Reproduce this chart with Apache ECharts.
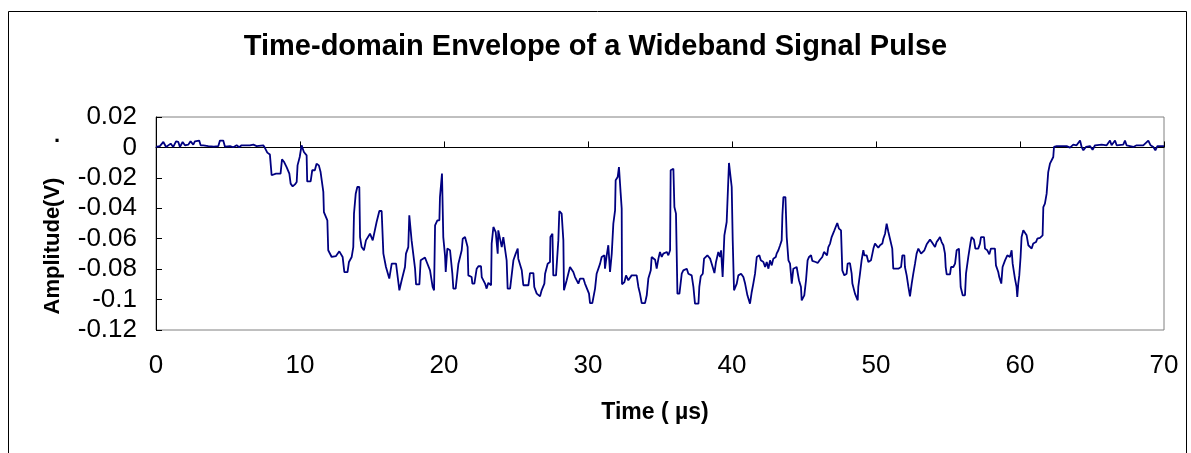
<!DOCTYPE html>
<html><head><meta charset="utf-8">
<script src="https://cdn.jsdelivr.net/npm/echarts@6/dist/echarts.min.js"></script>
<style>html,body{margin:0;padding:0;background:#fff}#c{width:1191px;height:453px}</style>
</head><body><div id="c"></div>
<script>
const titleText = 'Time-domain Envelope of a Wideband Signal Pulse';
const xAxisName = 'Time ( µs)';
const yAxisName = 'Amplitude(V)';
const xTickValues = [0, 10, 20, 30, 40, 50, 60, 70];
const yTickValues = [0.02, 0, -0.02, -0.04, -0.06, -0.08, -0.1, -0.12];

const timeUs = [
0,0.27,0.51,0.7,1.02,1.2,1.39,1.55,1.66,1.85,2.01,2.24,2.4,2.59,2.7,3.0,3.1,3.28,3.4,3.63,3.75,4.02,4.33,4.44,4.67,4.79,5.14,5.37,5.6,5.78,5.94,6.52,6.76,6.99,7.45,7.57,7.73,7.91,
8.03,8.33,8.65,8.75,8.9,9.07,9.26,9.35,9.49,9.65,9.77,9.83,9.98,10.11,10.27,10.46,10.5,10.74,10.85,11.03,11.15,11.31,11.43,11.62,11.66,11.9,11.96,12.2,12.5,12.73,12.96,13.08,13.3,13.4,
13.59,13.7,13.75,13.87,13.98,14.12,14.17,14.28,14.44,14.58,14.86,15.05,15.32,15.51,15.67,15.79,15.97,16.2,16.37,16.67,16.9,17.06,17.29,17.36,17.52,17.59,17.75,17.99,18.06,18.29,18.38,18.68,18.8,19.03,19.21,19.31,19.38,19.54,19.68,19.72,19.86,19.95,20.07,20.12,20.23,20.42,20.58,20.65,20.81,21.0,21.23,21.3,21.46,21.64,21.69,
21.92,21.97,22.11,22.27,22.39,22.57,22.62,22.73,22.85,22.96,23.08,23.27,23.31,23.43,23.59,23.73,23.77,23.89,24.01,24.12,24.24,24.35,24.42,24.59,24.82,24.98,25.12,25.16,25.4,25.51,25.86,25.97,26.21,26.27,26.44,26.67,26.78,26.97,27.02,27.2,27.36,27.39,27.53,27.59,27.78,27.94,28.01,28.17,28.29,28.33,28.52,28.75,28.98,29.1,29.33,29.45,29.68,29.79,30.07,30.14,30.3,30.49,30.6,30.84,30.95,31.14,31.18,31.3,31.41,31.53,31.65,31.76,31.88,31.92,32.06,32.15,32.22,32.27,32.34,32.36,32.53,32.64,32.8,33.03,
33.38,33.5,33.61,33.73,33.96,34.08,34.19,34.36,34.42,34.66,34.77,34.89,35.0,35.12,35.23,35.35,35.47,35.58,35.7,35.74,35.93,36.0,36.11,36.21,36.35,36.51,36.62,36.86,36.97,37.2,37.32,37.43,37.67,37.73,37.83,37.97,38.06,38.29,38.48,38.59,38.71,38.78,38.89,39.05,39.17,39.24,39.35,39.47,39.63,39.68,39.79,39.86,39.98,40.05,40.14,40.33,40.44,40.63,40.79,40.91,41.07,41.25,41.37,41.48,41.6,41.72,41.9,42.0,42.18,42.3,42.41,42.53,42.64,42.76,42.87,43.04,43.1,43.22,43.34,43.45,43.5,43.57,43.71,43.8,43.92,44.03,44.15,44.26,44.49,
44.56,44.65,44.79,44.84,45.02,45.14,45.25,45.35,45.49,45.58,45.81,45.95,46.11,46.27,46.39,46.5,46.6,46.69,46.81,46.92,47.04,47.11,47.2,47.31,47.43,47.57,47.66,47.8,47.96,48.03,48.19,48.31,48.36,48.54,48.73,48.77,48.89,49.0,49.12,49.19,49.35,49.47,49.65,49.75,49.82,49.93,50.05,50.16,50.28,50.44,50.51,50.63,50.74,50.81,50.86,50.97,51.13,51.2,51.55,51.74,51.83,51.97,52.01,52.13,52.25,52.36,52.48,52.59,52.71,52.82,52.94,53.13,53.24,53.36,53.52,53.63,53.75,53.87,53.98,54.1,54.21,54.33,54.44,54.56,54.68,54.79,54.84,54.91,55.14,55.21,55.37,55.49,55.6,55.76,
55.88,56.02,56.18,56.25,56.41,56.57,56.64,56.8,56.9,57.1,57.22,57.29,57.5,57.57,57.73,57.87,57.98,58.26,58.33,58.49,58.56,58.65,58.7,58.79,58.96,59.12,59.3,59.42,59.49,59.58,59.65,59.76,59.81,59.88,59.95,60.04,60.11,60.23,60.34,60.46,60.58,60.69,60.81,60.92,61.11,61.2,61.39,61.57,61.62,61.73,61.85,61.96,62.08,62.2,62.31,62.36,
62.55,63.24,63.47,63.7,63.93,64.17,64.28,64.4,64.58,64.86,65.04,65.21,65.67,66.02,66.25,66.36,66.6,66.71,67.17,67.29,67.4,67.64,67.87,68.1,68.56,68.91,69.07,69.26,69.4,69.54,70
];

const amplitudeV = [
0.0003,0.0009,0.0036,0.0003,0.0025,0.0003,0.004,0.0036,0.0003,0.0036,0.0014,0.0018,0.004,0.0018,0.004,0.0045,0.0014,0.0014,0.0018,0.0009,0.0001,0.0005,0.0009,0.0045,0.0045,0.0005,0.0009,0.0001,0.0014,0.0001,0.0014,0.0014,0.0018,0.0009,0.0014,-0.0004,-0.0034,-0.0047,
-0.0183,-0.0172,-0.0172,-0.0078,-0.0096,-0.0129,-0.0172,-0.0238,-0.0256,-0.0243,-0.0227,-0.0118,-0.0063,0.0014,-0.003,-0.0052,-0.0223,-0.0223,-0.015,-0.015,-0.0107,-0.0118,-0.0162,-0.0292,-0.0425,-0.048,-0.0676,-0.072,-0.0714,-0.0683,-0.072,-0.082,-0.082,-0.0753,
-0.072,-0.0655,-0.0435,-0.0304,-0.026,-0.026,-0.0589,-0.0655,-0.0676,-0.0611,-0.0567,-0.0611,-0.049,-0.0418,-0.0418,-0.0698,-0.0786,-0.0862,-0.0764,-0.0764,-0.0939,-0.0873,-0.0786,-0.0698,-0.0655,-0.0446,-0.0611,-0.0797,-0.09,-0.09,-0.0742,-0.0724,-0.0753,-0.0808,-0.0917,-0.0939,-0.0512,-0.0479,-0.0479,-0.0326,-0.0172,-0.0589,-0.0709,-0.0819,-0.0665,-0.0676,-0.083,-0.0928,-0.0928,-0.0764,-0.0676,-0.06,-0.0589,-0.0655,-0.0841,
-0.0852,-0.0895,-0.0895,-0.0797,-0.0781,-0.0781,-0.0852,-0.0841,-0.0895,-0.0928,-0.089,-0.0906,-0.0632,-0.0523,-0.0556,-0.0698,-0.0545,-0.0545,-0.0655,-0.0589,-0.0589,-0.0742,-0.0928,-0.0928,-0.0742,-0.0698,-0.0665,-0.0731,-0.0808,-0.0906,-0.0906,-0.0826,-0.0826,-0.0917,-0.0961,-0.0979,-0.0939,-0.0895,-0.083,-0.0764,-0.0753,-0.0589,-0.0567,-0.0841,-0.0841,-0.0611,-0.0418,-0.0435,-0.0611,-0.0939,-0.0873,-0.0786,-0.0819,-0.0852,-0.0895,-0.0862,-0.0862,-0.0895,-0.0961,-0.1023,-0.1023,-0.0928,-0.083,-0.0764,-0.072,-0.0709,-0.0797,-0.0709,-0.0643,-0.0819,-0.0698,-0.0501,-0.0413,-0.0216,-0.0195,-0.0129,-0.0129,-0.0304,-0.0402,-0.09,-0.0885,-0.0841,-0.0873,-0.0841,
-0.0841,-0.0917,-0.0961,-0.1023,-0.1023,-0.0972,-0.0862,-0.0808,-0.072,-0.0738,-0.0797,-0.0731,-0.0687,-0.072,-0.0698,-0.0709,-0.0687,-0.0709,-0.0676,-0.015,-0.014,-0.0392,-0.0435,-0.0961,-0.0961,-0.083,-0.0808,-0.0797,-0.083,-0.0841,-0.0917,-0.1027,-0.1027,-0.0917,-0.0847,-0.083,-0.0731,-0.0709,-0.0731,-0.0764,-0.0775,-0.0826,-0.0753,-0.0687,-0.072,-0.0676,-0.0852,-0.0578,-0.049,-0.0479,-0.0102,-0.0102,-0.026,-0.0611,-0.0939,-0.0895,-0.0841,-0.083,-0.0852,-0.0895,-0.0972,-0.1027,-0.095,-0.0895,-0.083,-0.072,-0.0709,-0.0742,-0.0753,-0.0786,-0.0753,-0.0797,-0.0742,-0.0775,-0.0731,-0.072,-0.0698,-0.0676,-0.0643,-0.0611,-0.0446,-0.0326,-0.0326,-0.0589,-0.0742,-0.0764,-0.0895,-0.0797,-0.0786,
-0.0797,-0.0873,-0.0917,-0.1005,-0.0972,-0.0873,-0.0742,-0.072,-0.0709,-0.0746,-0.0753,-0.076,-0.0738,-0.072,-0.0687,-0.0687,-0.0709,-0.0655,-0.0632,-0.0589,-0.06,-0.0545,-0.0523,-0.0497,-0.0534,-0.0545,-0.0808,-0.0841,-0.083,-0.0764,-0.076,-0.083,-0.0895,-0.0961,-0.1005,-0.0917,-0.083,-0.0742,-0.0676,-0.0709,-0.0709,-0.0753,-0.0742,-0.0698,-0.0665,-0.0632,-0.0632,-0.0659,-0.0643,-0.0632,-0.06,-0.0567,-0.0501,-0.049,-0.0556,-0.06,-0.0665,-0.0797,-0.0797,-0.0786,-0.0709,-0.0709,-0.0786,-0.0841,-0.0917,-0.0979,-0.0895,-0.083,-0.0764,-0.0698,-0.0665,-0.0698,-0.0698,-0.0676,-0.0637,-0.0628,-0.0606,-0.0622,-0.0632,-0.0655,-0.0622,-0.0606,-0.0589,-0.0622,-0.0643,-0.0698,-0.0786,-0.0834,-0.0834,-0.0786,-0.0786,-0.0764,-0.0676,-0.0665,
-0.0917,-0.0972,-0.0972,-0.083,-0.072,-0.0622,-0.0589,-0.0606,-0.0665,-0.0665,-0.0632,-0.0589,-0.0589,-0.0665,-0.0676,-0.0703,-0.0665,-0.0665,-0.0775,-0.0819,-0.0852,-0.0841,-0.0895,-0.0786,-0.0742,-0.0709,-0.072,-0.0676,-0.0764,-0.0819,-0.0862,-0.0917,-0.0983,-0.0895,-0.0841,-0.072,-0.0589,-0.0545,-0.0556,-0.0578,-0.0643,-0.0655,-0.0665,-0.0632,-0.0622,-0.06,-0.0594,-0.0578,-0.0392,-0.037,-0.0304,-0.0162,-0.0107,-0.0096,-0.0063,0.0003,
0.0009,0.0009,-0.0001,0.0018,0.0014,0.0045,0.0003,-0.0019,0.0003,0.0009,-0.0015,0.0014,0.0018,0.0014,0.0045,0.0014,0.0045,0.0014,0.0018,0.0045,0.0014,0.0009,0.0003,0.0014,0.0014,0.0045,0.0014,0.0003,-0.0019,0.0009,0.0009
];

const seriesData = timeUs.map((t, i) => [t, amplitudeV[i]]);
const FONT = 'Liberation Sans, Arial, sans-serif';

const chart = echarts.init(document.getElementById('c'), null, {renderer: 'canvas'});
chart.setOption({
  animation: false,
  backgroundColor: '#ffffff',
  title: {
    text: titleText, left: 'center', top: 27,
    textStyle: {fontFamily: FONT, fontSize: 29, fontWeight: 'bold', color: '#000'}
  },
  grid: {left: 156, right: 27, top: 117, bottom: 123, show: true, borderColor: '#808080', borderWidth: 1, backgroundColor: '#fff'},
  xAxis: {
    type: 'value', min: xTickValues[0], max: xTickValues[xTickValues.length - 1], interval: 10,
    axisLine: {lineStyle: {color: '#000', width: 1}},
    axisTick: {inside: true, length: 6, lineStyle: {color: '#000'}},
    axisLabel: {margin: 23, fontFamily: FONT, fontSize: 26, color: '#000'},
    splitLine: {show: false}
  },
  yAxis: {
    type: 'value', min: yTickValues[yTickValues.length - 1], max: yTickValues[0], interval: 0.02,
    axisLine: {show: true, lineStyle: {color: '#000', width: 1}},
    axisTick: {show: true, inside: true, length: 6, lineStyle: {color: '#000'}},
    axisLabel: {margin: 19, fontFamily: FONT, fontSize: 26, color: '#000',
      formatter: v => String(parseFloat(v.toFixed(2)))},
    splitLine: {show: false}
  },
  graphic: [
    {type: 'rect', left: 6, top: 9, shape: {width: 1178, height: 470}, style: {fill: 'none', stroke: '#000', lineWidth: 1}, silent: true, z: -10},
    {type: 'text', x: 53, y: 246, rotation: Math.PI / 2, style: {text: yAxisName, font: 'bold 22px ' + FONT, fill: '#000', textAlign: 'center', textVerticalAlign: 'middle'}},
    {type: 'text', x: 57, y: 136, style: {text: '.', font: 'bold 22px ' + FONT, fill: '#000', textAlign: 'center', textVerticalAlign: 'middle'}},
    {type: 'text', x: 655, y: 413, style: {text: xAxisName, font: 'bold 23px ' + FONT, fill: '#000', textAlign: 'center', textVerticalAlign: 'middle'}}
  ],
  series: [{
    type: 'line', data: seriesData, showSymbol: false, symbol: 'none', smooth: false,
    lineStyle: {color: '#000080', width: 1.8}, clip: true
  }]
});
</script>
</body></html>
